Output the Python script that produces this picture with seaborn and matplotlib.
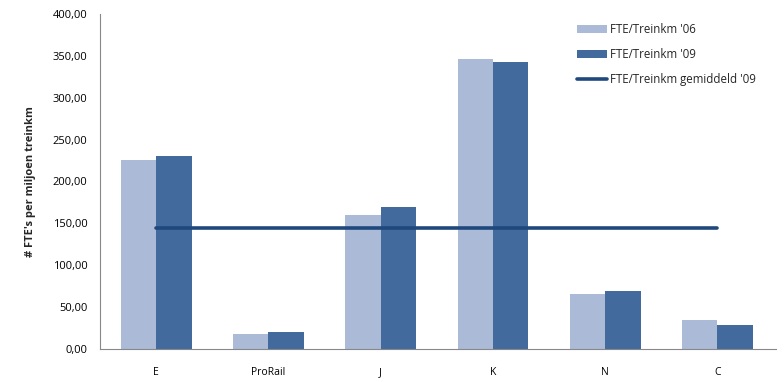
import matplotlib
matplotlib.use("Agg")
import matplotlib.pyplot as plt
import matplotlib.ticker as ticker
import numpy as np
import pandas as pd
import seaborn as sns

# data
categories = ["E", "ProRail", "J", "K", "N", "C"]
fte_06 = [225.5, 18.0, 159.5, 346.5, 65.5, 34.5]
fte_09 = [230.5, 20.5, 170.0, 342.5, 69.0, 28.5]
gemiddeld_09 = [144.0, 144.0, 144.0, 144.0, 144.0, 144.0]
series_names = ["FTE/Treinkm '06", "FTE/Treinkm '09"]
line_name = "FTE/Treinkm gemiddeld '09"

df = pd.DataFrame({
    "cat": categories * 2,
    "value": fte_06 + fte_09,
    "serie": [series_names[0]] * len(categories) + [series_names[1]] * len(categories),
})

sns.set_style("white")
plt.rcParams['font.family'] = ['Open Sans', 'DejaVu Sans']

fig = plt.figure(figsize=(7.84, 3.82), dpi=100)
ax = fig.add_axes([0.1276, 0.0864, 0.862, 0.877])

sns.barplot(data=df, x="cat", y="value", hue="serie", order=categories,
            palette=["#AABAD7", "#426A9C"], width=0.63, saturation=1,
            linewidth=0, ax=ax)
ax.plot(range(len(categories)), gemiddeld_09, color="#1F497D", lw=2.6,
        solid_capstyle="round", label=line_name)

ax.set_xlim(-0.5, len(categories) - 0.48)
ax.set_ylim(0, 400)
ax.yaxis.set_major_locator(ticker.MultipleLocator(50))
ax.yaxis.set_major_formatter(ticker.FuncFormatter(lambda v, p: f"{v:.2f}".replace(".", ",")))
ax.set_xticks(np.arange(-0.5, len(categories)), minor=True)
ax.tick_params(axis="x", which="major", length=0, pad=13, labelsize=7.5, colors="black")
ax.tick_params(axis="x", which="minor", length=5, width=0.8, color="#888888", direction="out")
ax.tick_params(axis="y", length=5, width=0.8, color="#888888", direction="out",
               labelsize=8, pad=4, colors="#888888", labelcolor="black")

for s in ["top", "right"]:
    ax.spines[s].set_visible(False)
for s in ["left", "bottom"]:
    ax.spines[s].set_color("#888888")
    ax.spines[s].set_linewidth(0.8)

ax.set_xlabel("")
ax.set_ylabel("# FTE's per miljoen treinkm", fontsize=8, fontweight="bold", labelpad=12)

ax.legend(loc="upper left", bbox_to_anchor=(0.69, 1.005), frameon=False, fontsize=8.3,
          handlelength=2.6, handleheight=0.7, labelspacing=1.05, handletextpad=0.3)

fig.savefig("out.png", dpi=100)
